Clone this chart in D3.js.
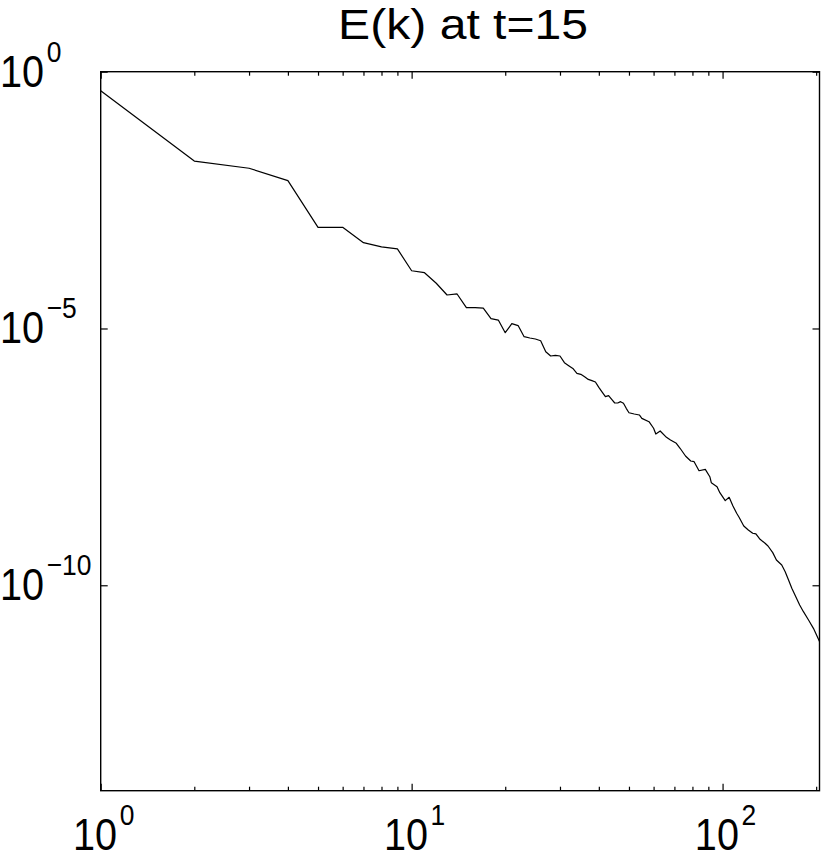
<!DOCTYPE html>
<html>
<head>
<meta charset="utf-8">
<script src="https://cdn.jsdelivr.net/npm/d3@7"></script>
<style>
  html, body { margin: 0; padding: 0; background: #fff; }
  svg { display: block; }
  text { font-family: "Liberation Sans", Arial, Helvetica, sans-serif; fill: #000; }
</style>
</head>
<body>
<script>
// ---- data ----
const titleText = "E(k) at t=15";
const kValues = [1,2,3,4,5,6,7,8,9,10,11,12,13,14,15,16,17,18,19,20,21,22,23,24,25,26,27,28,29,30,
  31,32,33,34,35,36,37,38,39,40,41,42,43,44,45,46,47,48,49,50,52,54,55,58,60,61,63,66,68,71,73,76,79,81,84,
  88,91,92,96,98,102,105,108,111,113,117,121,125,128,132,137,140,145,149,155,159,163,167,172,177,182,189,196,205];
const energyValues = [4.27e-1,1.82e-2,1.32e-2,7.55e-3,9.33e-4,9.33e-4,4.68e-4,3.89e-4,3.55e-4,1.33e-4,
  1.22e-4,7.59e-5,4.49e-5,4.70e-5,2.54e-5,2.54e-5,2.50e-5,1.55e-5,1.46e-5,8.28e-6,
  1.24e-5,1.14e-5,6.92e-6,6.53e-6,6.25e-6,5.78e-6,3.53e-6,2.91e-6,3.00e-6,2.91e-6,
  2.16e-6,1.89e-6,1.67e-6,1.34e-6,1.28e-6,1.15e-6,1.02e-6,9.64e-7,9.08e-7,7.14e-7,
  5.79e-7,4.70e-7,4.92e-7,4.18e-7,3.54e-7,3.54e-7,3.76e-7,3.49e-7,2.79e-7,2.29e-7,
  2.16e-7,2.07e-7,1.78e-7,1.53e-7,1.14e-7,8.81e-8,1.01e-7,7.60e-8,6.75e-8,5.81e-8,4.65e-8,3.29e-8,2.63e-8,2.55e-8,1.70e-8,
  1.81e-8,1.30e-8,9.93e-9,8.32e-9,6.35e-9,4.44e-9,5.16e-9,3.50e-9,2.52e-9,2.11e-9,1.43e-9,1.19e-9,1.03e-9,9.98e-10,7.85e-10,
  6.58e-10,5.82e-10,4.32e-10,3.11e-10,2.48e-10,1.84e-10,1.27e-10,8.73e-11,6.00e-11,4.13e-11,3.06e-11,2.11e-11,1.45e-11,8.0e-12];

const xDomain = [1, 205];
const yDomain = [1e-14, 1];
const xMajorTicks = [1, 10, 100];
const xMajorLabels = ["0", "1", "2"];
const xMinorTicks = [2,3,4,5,6,7,8,9,20,30,40,50,60,70,80,90,200];
const yMajorTicks = [1, 1e-5, 1e-10];
const yMajorLabels = ["0", "\u22125", "\u221210"];

// ---- layout ----
const W = 830, H = 861;
const mLeft = 100.7, mRight = 819.5, mTop = 71.7, mBottom = 790.7;

const svg = d3.select("body").append("svg").attr("width", W).attr("height", H);
svg.append("rect").attr("width", W).attr("height", H).attr("fill", "#fff");

const x = d3.scaleLog().domain(xDomain).range([mLeft, mRight]);
const y = d3.scaleLog().domain(yDomain).range([mBottom, mTop]);

// data line
const pts = kValues.map((k, i) => [k, energyValues[i]]);
svg.append("path")
  .datum(pts)
  .attr("fill", "none")
  .attr("stroke", "#000")
  .attr("stroke-width", 1.2)
  .attr("stroke-linejoin", "round")
  .attr("d", d3.line().x(d => x(d[0])).y(d => y(d[1])));

// axes (ticks inward, box on)
const MAJ = 7, MIN = 4;
function styleAxis(g) {
  g.select(".domain").remove();
  g.selectAll(".tick line").attr("stroke", "#000").attr("stroke-width", 1.2);
  g.selectAll(".tick text").remove();
}
svg.append("g").attr("transform", `translate(0,${mBottom})`)
  .call(d3.axisBottom(x).tickValues(xMajorTicks).tickSize(-MAJ).tickFormat("")).call(styleAxis);
svg.append("g").attr("transform", `translate(0,${mBottom})`)
  .call(d3.axisBottom(x).tickValues(xMinorTicks).tickSize(-MIN).tickFormat("")).call(styleAxis);
svg.append("g").attr("transform", `translate(0,${mTop})`)
  .call(d3.axisTop(x).tickValues(xMajorTicks).tickSize(-MAJ).tickFormat("")).call(styleAxis);
svg.append("g").attr("transform", `translate(0,${mTop})`)
  .call(d3.axisTop(x).tickValues(xMinorTicks).tickSize(-MIN).tickFormat("")).call(styleAxis);
svg.append("g").attr("transform", `translate(${mLeft},0)`)
  .call(d3.axisLeft(y).tickValues(yMajorTicks).tickSize(-MAJ).tickFormat("")).call(styleAxis);
svg.append("g").attr("transform", `translate(${mRight},0)`)
  .call(d3.axisRight(y).tickValues(yMajorTicks).tickSize(-MAJ).tickFormat("")).call(styleAxis);

// box
svg.append("rect")
  .attr("x", mLeft).attr("y", mTop)
  .attr("width", mRight - mLeft).attr("height", mBottom - mTop)
  .attr("fill", "none").attr("stroke", "#000").attr("stroke-width", 1.4);

// tick labels (condensed Helvetica look)
const BASE = 45, SUP = 30, RAISE = 25, SX = 0.88;
function powerLabel(px, py, exp) {
  const t = svg.append("text")
    .attr("transform", `translate(${px},${py}) scale(${SX},1)`)
    .attr("text-anchor", "start")
    .style("font-size", BASE + "px");
  t.append("tspan").text("10");
  t.append("tspan").attr("dx", 3).attr("dy", -RAISE).style("font-size", SUP + "px").text(exp);
}
xMajorTicks.forEach((v, i) => powerLabel(x(v) - 27.7, 850, xMajorLabels[i]));
yMajorTicks.forEach((v, i) => powerLabel(0, y(v) + 15, yMajorLabels[i]));

// title
svg.append("text")
  .attr("x", (mLeft + mRight) / 2 + 3).attr("y", 39)
  .attr("text-anchor", "middle")
  .attr("textLength", 250).attr("lengthAdjust", "spacingAndGlyphs")
  .style("font-size", "43px")
  .text(titleText);
</script>
</body>
</html>
